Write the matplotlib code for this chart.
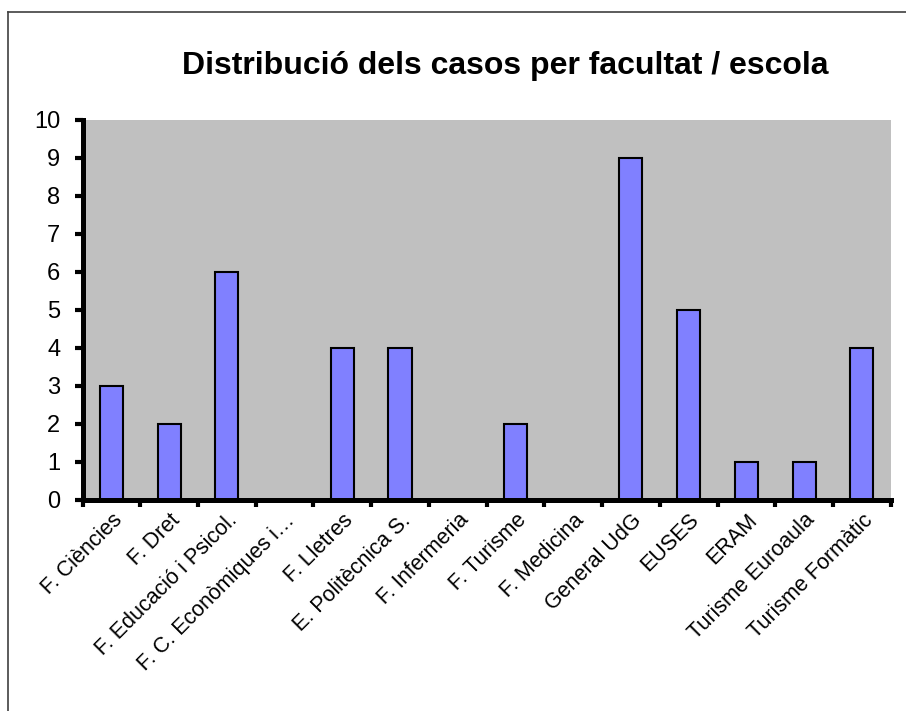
import matplotlib
matplotlib.use("Agg")
import matplotlib.pyplot as plt
from matplotlib.lines import Line2D
from matplotlib.transforms import ScaledTranslation
import numpy as np

plt.rcParams['font.family'] = ['Liberation Sans', 'DejaVu Sans']

categories = ["F. Ciències", "F. Dret", "F. Educació i Psicol.", "F. C. Econòmiques i…",
              "F. Lletres", "E. Politècnica S.", "F. Infermeria", "F. Turisme",
              "F. Medicina", "General UdG", "EUSES", "ERAM", "Turisme Euroaula",
              "Turisme Formàtic"]
cases = [3, 2, 6, 0, 4, 4, 0, 2, 0, 9, 5, 1, 1, 4]
y_ticks = list(range(0, 11))

W, H = 906, 711
fig = plt.figure(figsize=(W / 100, H / 100), dpi=100)
fig.patch.set_facecolor("white")

left_px, right_px, top_px, bottom_px = 82.5, 890.7, 120, 500
ax = fig.add_axes([left_px / W, (H - bottom_px) / H,
                   (right_px - left_px) / W, (bottom_px - top_px) / H])
ax.set_facecolor("#C0C0C0")

x = np.arange(len(categories))
ax.bar(x, cases, width=0.4, color="#8080FF", edgecolor="black", linewidth=1.5, zorder=3)

ax.set_xlim(-0.5, len(categories) - 0.5)
ax.set_ylim(0, 10)
ax.set_yticks(y_ticks)
ax.set_yticklabels([str(v) for v in y_ticks], fontsize=17)

# category ticks sit on the boundaries between bars; labels at bar centres
ax.set_xticks(np.arange(len(categories) + 1) - 0.5)
ax.set_xticklabels([])
ax.set_xticks(x, minor=True)
ax.set_xticklabels(categories, minor=True, rotation=45, ha="right",
                   rotation_mode="anchor", fontsize=15.5)
shift = ScaledTranslation(1.5 / 100, 0, fig.dpi_scale_trans)
for lbl in ax.get_xticklabels(minor=True):
    lbl.set_transform(lbl.get_transform() + shift)
ax.tick_params(axis="x", which="minor", length=0, pad=7)
ax.tick_params(axis="x", which="major", length=5, width=3, direction="out")
ax.tick_params(axis="y", length=6, width=3, direction="out", pad=10)

for side in ("top", "right"):
    ax.spines[side].set_visible(False)
for side in ("left", "bottom"):
    ax.spines[side].set_linewidth(3.6)
    ax.spines[side].set_color("black")
    ax.spines[side].set_zorder(4)

fig.text(505 / W, 1 - 74 / H, "Distribució dels casos per facultat / escola",
         ha="center", va="baseline", fontsize=23, fontweight="bold")

# outer chart frame
fig.add_artist(Line2D([8 / W, 8 / W], [0, 1 - 12 / H], color="#404040", linewidth=1.2,
                      transform=fig.transFigure))
fig.add_artist(Line2D([8 / W, 1], [1 - 12 / H, 1 - 12 / H], color="#404040", linewidth=1.2,
                      transform=fig.transFigure))

fig.savefig("out.png", dpi=100)
